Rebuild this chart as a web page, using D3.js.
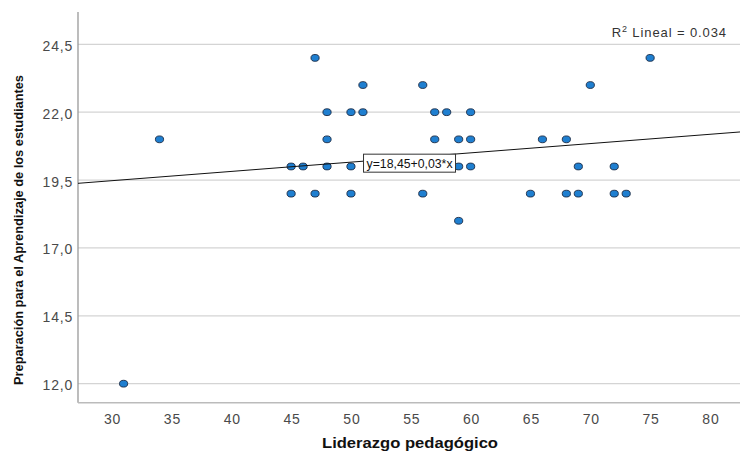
<!DOCTYPE html>
<html>
<head>
<meta charset="utf-8">
<script src="https://cdn.jsdelivr.net/npm/d3@7"></script>
<style>
  body { margin: 0; background: #fff; }
  svg { display: block; font-family: "Liberation Sans", Arial, sans-serif; }
</style>
</head>
<body>
<svg id="chart" width="740" height="456"></svg>
<script>
// scatter: Liderazgo pedagógico (x) vs Preparación para el Aprendizaje (y)
const liderazgo = [31, 34, 47, 75, 51, 56, 70, 48, 50, 51, 57, 58, 60,
  48, 57, 59, 60, 66, 68, 45, 46, 48, 50, 59, 60, 69, 72,
  45, 47, 50, 56, 65, 68, 69, 72, 73, 59];
const preparacion = [12, 21, 24, 24, 23, 23, 23, 22, 22, 22, 22, 22, 22,
  21, 21, 21, 21, 21, 21, 20, 20, 20, 20, 20, 20, 20, 20,
  19, 19, 19, 19, 19, 19, 19, 19, 19, 18];

const xTicks = [30, 35, 40, 45, 50, 55, 60, 65, 70, 75, 80];
const yTicks = [12, 14.5, 17, 19.5, 22, 24.5];

const fitIntercept = 18.45;
const fitSlope = 0.0342;
const fitLabel = 'y=18,45+0,03*x';
const r2Value = '0.034';

const xTitle = 'Liderazgo pedagógico';
const yTitle = 'Preparación para el Aprendizaje de los estudiantes';

const svg = d3.select('#chart');
const plot = { left: 78, right: 740, top: 12, bottom: 402.7 };

const x = d3.scaleLinear().domain([27.19, 82.51]).range([plot.left, plot.right]);
const y = d3.scaleLinear().domain([11.3, 25.69]).range([plot.bottom, plot.top]);

const esLocale = d3.formatLocale({ decimal: ',', thousands: '.', grouping: [3], currency: ['', ''] });
const fmtY = esLocale.format('.1f');

// gridlines
svg.append('g')
  .selectAll('line')
  .data(yTicks)
  .join('line')
    .attr('x1', plot.left)
    .attr('x2', plot.right)
    .attr('y1', d => y(d))
    .attr('y2', d => y(d))
    .style('stroke', '#d4d4d4')
    .style('stroke-width', 1.3);

// y axis
const yAxis = svg.append('g')
  .attr('transform', `translate(${plot.left},0)`)
  .call(d3.axisLeft(y).tickValues(yTicks).tickSize(0).tickPadding(5).tickFormat(fmtY));
yAxis.select('.domain').attr('d', `M0,${plot.top}V${plot.bottom}`)
  .style('stroke', '#999').style('stroke-width', 1.3);
yAxis.selectAll('text')
  .attr('dy', 6)
  .style('font-size', '14px')
  .style('letter-spacing', '0.8px')
  .style('fill', '#4a4a4a')
  .style('font-family', '"Liberation Sans", Arial, sans-serif');

// x axis
const xAxis = svg.append('g')
  .attr('transform', `translate(0,${plot.bottom})`)
  .call(d3.axisBottom(x).tickValues(xTicks).tickSize(0).tickPadding(0));
xAxis.select('.domain').attr('d', `M${plot.left},0H${plot.right}`)
  .style('stroke', '#bbb').style('stroke-width', 1.5);
xAxis.selectAll('text')
  .attr('y', 21)
  .attr('dy', 0)
  .attr('dx', 0.5)
  .style('font-size', '14px')
  .style('letter-spacing', '0.8px')
  .style('fill', '#4a4a4a')
  .style('font-family', '"Liberation Sans", Arial, sans-serif');

// points
svg.append('g')
  .selectAll('ellipse')
  .data(liderazgo.map((d, i) => ({ x: d, y: preparacion[i] })))
  .join('ellipse')
    .attr('cx', d => x(d.x))
    .attr('cy', d => y(d.y))
    .attr('rx', 4.1)
    .attr('ry', 3.4)
    .style('fill', '#1f7fd0')
    .style('stroke', '#1b2a44')
    .style('stroke-width', 0.9);

// fit line
const [x0, x1] = x.domain();
svg.append('line')
  .attr('x1', x(x0))
  .attr('x2', x(x1))
  .attr('y1', y(fitIntercept + fitSlope * x0))
  .attr('y2', y(fitIntercept + fitSlope * x1))
  .style('stroke', '#111')
  .style('stroke-width', 1);

// fit equation box
const labelX = x(51.05);
const labelY = y(fitIntercept + fitSlope * 51.05) - 7;
const lab = svg.append('g').attr('transform', `translate(${labelX},${labelY})`);
lab.append('rect')
  .attr('width', 92)
  .attr('height', 18)
  .style('fill', '#fff')
  .style('stroke', '#333')
  .style('stroke-width', 1);
lab.append('text')
  .attr('x', 3)
  .attr('y', 13.5)
  .attr('textLength', 86)
  .attr('lengthAdjust', 'spacingAndGlyphs')
  .style('font-size', '12px')
  .style('fill', '#111')
  .text(fitLabel);

// R2 label
const r2 = svg.append('text')
  .attr('x', 727)
  .attr('y', 37)
  .attr('text-anchor', 'end')
  .style('font-size', '13px')
  .style('letter-spacing', '0.9px')
  .style('fill', '#333');
r2.append('tspan').text('R');
r2.append('tspan').attr('dy', -5).style('font-size', '9px').text('2');
r2.append('tspan').attr('dy', 5).text(' Lineal = ' + r2Value);

// axis titles
svg.append('text')
  .attr('x', 410)
  .attr('y', 448)
  .attr('text-anchor', 'middle')
  .attr('textLength', 176)
  .attr('lengthAdjust', 'spacingAndGlyphs')
  .style('font-size', '14.5px')
  .style('font-weight', 'bold')
  .style('fill', '#111')
  .text(xTitle);

svg.append('text')
  .attr('transform', 'translate(23,230) rotate(-90)')
  .attr('text-anchor', 'middle')
  .attr('textLength', 310)
  .attr('lengthAdjust', 'spacingAndGlyphs')
  .style('font-size', '13.5px')
  .style('font-weight', 'bold')
  .style('fill', '#111')
  .text(yTitle);
</script>
</body>
</html>
